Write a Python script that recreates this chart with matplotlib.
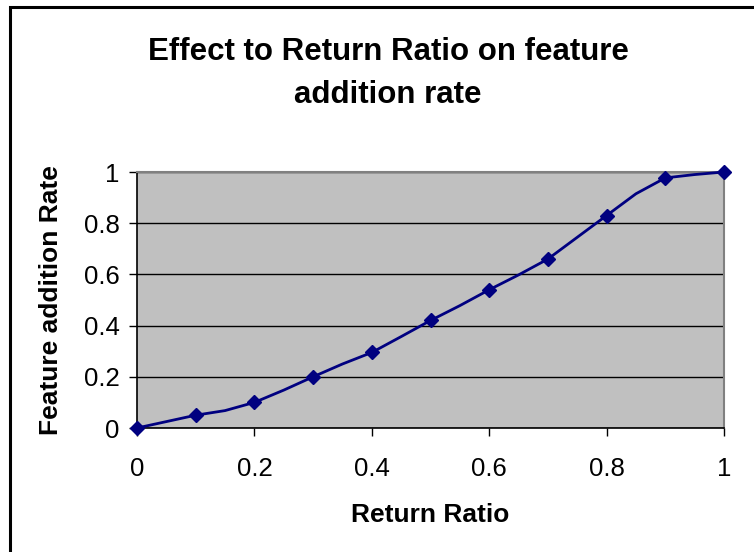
import matplotlib
matplotlib.use("Agg")
import matplotlib.pyplot as plt
from matplotlib.patches import Rectangle

plt.rcParams['font.family'] = ['Liberation Sans', 'DejaVu Sans']

return_ratio = [0.0, 0.05, 0.1, 0.15, 0.2, 0.25, 0.3, 0.35, 0.4, 0.45, 0.5,
                0.55, 0.6, 0.65, 0.7, 0.75, 0.8, 0.85, 0.9, 0.95, 1.0]
feature_rate = [0.0, 0.025, 0.05, 0.068, 0.10, 0.148, 0.20, 0.25, 0.295, 0.357, 0.42,
                0.478, 0.54, 0.598, 0.66, 0.745, 0.83, 0.915, 0.977, 0.99, 1.0]
tick_vals = [0, 0.2, 0.4, 0.6, 0.8, 1]
tick_labels = ['0', '0.2', '0.4', '0.6', '0.8', '1']

W, H = 754, 552
fig = plt.figure(figsize=(W / 100, H / 100), dpi=100)
ax = fig.add_axes([137 / W, 1 - 428 / H, (724 - 137) / W, (428 - 172) / H])
ax.set_facecolor('#C0C0C0')

# chart border
fig.patches.append(Rectangle((10 / W, -0.1), 2, 1 - 7 / H + 0.1, transform=fig.transFigure,
                             fill=False, edgecolor='black', linewidth=2.2, zorder=0))

ax.plot(return_ratio, feature_rate, color='#000080', linewidth=2.0,
        marker='D', markersize=7.5, markevery=2, markerfacecolor='#000080',
        markeredgecolor='#000080', clip_on=False, zorder=5)

ax.set_xlim(0, 1)
ax.set_ylim(0, 1)
ax.set_xticks(tick_vals)
ax.set_xticklabels(tick_labels)
ax.set_yticks(tick_vals)
ax.set_yticklabels(tick_labels)
ax.tick_params(axis='both', labelsize=18.5, direction='out', length=5.5, width=1, color='black')
ax.tick_params(axis='x', pad=15.5)
ax.tick_params(axis='y', pad=7)
ax.yaxis.grid(True, color='black', linewidth=1)
ax.set_axisbelow(True)

for s in ['top', 'right']:
    ax.spines[s].set_color('#808080')
    ax.spines[s].set_linewidth(1.5)
for s in ['left', 'bottom']:
    ax.spines[s].set_color('black')
    ax.spines[s].set_linewidth(1.2)

ax.set_xlabel('Return Ratio', fontsize=19, fontweight='bold', labelpad=16)
ax.set_ylabel('Feature addition Rate', fontsize=19, fontweight='bold', labelpad=15)

fig.text(388 / W, 1 - 52 / H, 'Effect to Return Ratio on feature', ha='center', va='center',
         fontsize=22.5, fontweight='bold')
fig.text(388 / W, 1 - 95 / H, 'addition rate', ha='center', va='center',
         fontsize=22.5, fontweight='bold')

fig.savefig('out.png', dpi=100)
